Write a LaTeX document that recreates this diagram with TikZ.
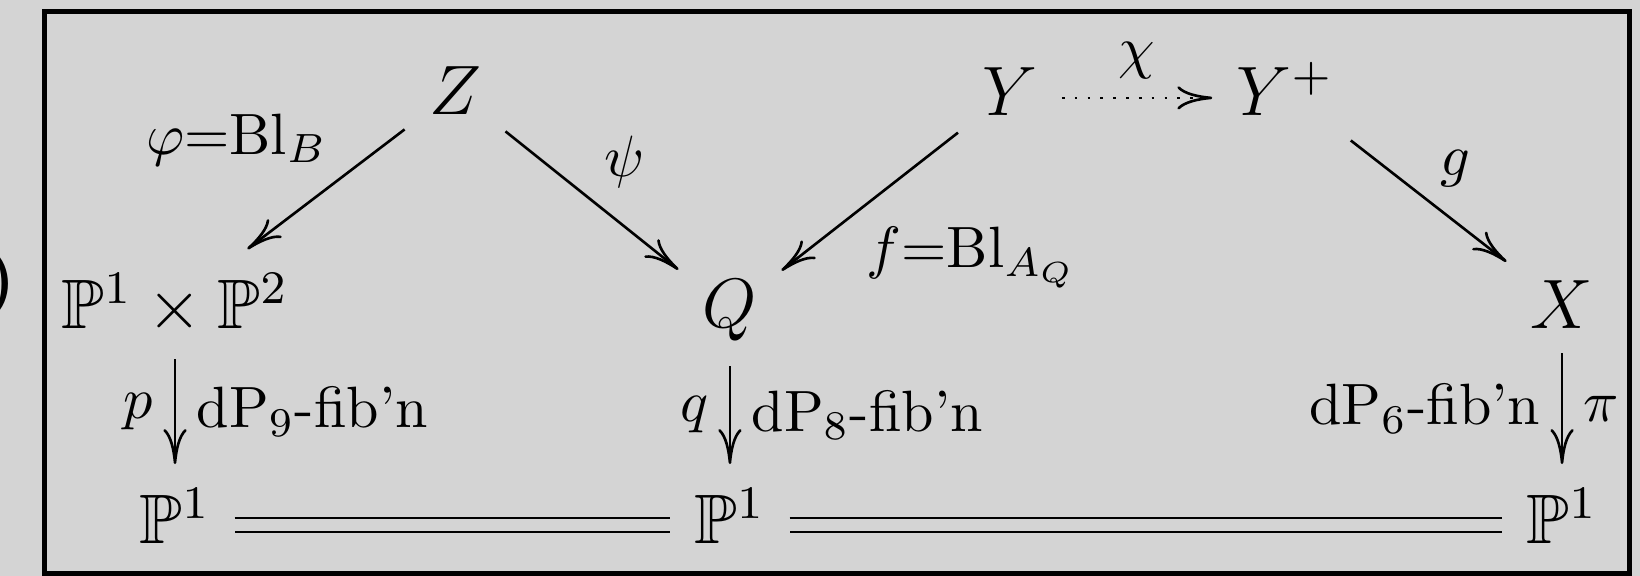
\documentclass[tikz,border=0pt]{standalone}
\usepackage{amsmath}
\usepackage{amssymb}
\usetikzlibrary{arrows.meta, positioning}
\definecolor{figgray}{HTML}{D4D4D4}
\tikzset{
  cdobj/.style={font=\large, anchor=base, inner sep=4pt},
  cdlabel/.style={font=\normalsize, inner sep=2pt},
  cdarrow/.style={-{To[length=6pt, width=4pt]}, line width=0.45pt},
  cddots/.style={cdarrow, dash pattern=on 0.45pt off 1.75pt},
  cdequal/.style={double=figgray, double distance=1.9pt, line width=0.5pt},
}
\begin{document}
\begin{tikzpicture}
  \fill[figgray] (0,0) rectangle (9.886,-3.472);
  \useasboundingbox (0,0) rectangle (9.886,-3.472);
  \node[font=\large\bfseries, anchor=base east, inner sep=0pt] (paren) at (0.105,-1.815) {)};
  \draw[line width=0.8pt] (0.269,-0.068) rectangle (9.823,-3.456);
  % top row
  \node[cdobj] (Z) at (2.743,-0.693) {$Z$};
  \node[cdobj] (Y) at (6.088,-0.699) {$Y$};
  \node[cdobj] (Yp) at (7.746,-0.699) {$Y^+$};
  % middle row
  \node[cdobj] (PP) at (1.055,-1.983) {$\mathbb{P}^1\times\mathbb{P}^2$};
  \node[cdobj] (Q) at (4.400,-1.977) {$Q$};
  \node[cdobj] (X) at (9.416,-1.983) {$X$};
  % bottom row
  \node[cdobj] (PA) at (1.055,-3.279) {$\mathbb{P}^1$};
  \node[cdobj] (PB) at (4.400,-3.279) {$\mathbb{P}^1$};
  \node[cdobj] (PC) at (9.416,-3.279) {$\mathbb{P}^1$};
  % maps
  \draw[cdarrow] (Z) -- (PP)
    node[cdlabel, pos=0.41, anchor=south east] (lphi) {$\varphi{=}\mathrm{Bl}_B$};
  \draw[cdarrow] (Z) -- (Q)
    node[cdlabel, midway, anchor=south west] (lpsi) {$\psi$};
  \draw[cdarrow] (Y) -- (Q)
    node[cdlabel, pos=0.59, anchor=north west] (lf) {$f{=}\mathrm{Bl}_{A_Q}$};
  \draw[cddots] ([yshift=-1pt]Y.east) -- ([yshift=-1pt]Y.east -| Yp.west)
    node[cdlabel, midway, above=1pt] (lchi) {$\chi$};
  \draw[cdarrow] (Yp) -- (X)
    node[cdlabel, pos=0.49, anchor=south west] (lg) {$g$};
  \draw[cdarrow] (PP) -- (PA)
    node[cdlabel, midway, left=1.5pt] (lp) {$p$}
    node[cdlabel, midway, right=1.5pt] (lpfib) {$\mathrm{dP}_9$-fib'n};
  \draw[cdarrow] (Q) -- (PB)
    node[cdlabel, midway, left=1.5pt] (lq) {$q$}
    node[cdlabel, midway, right=1.5pt] (lqfib) {$\mathrm{dP}_8$-fib'n};
  \draw[cdarrow] (X) -- (PC)
    node[cdlabel, midway, left=1.5pt] (lxfib) {$\mathrm{dP}_6$-fib'n}
    node[cdlabel, midway, right=1.5pt] (lpi) {$\pi$};
  \draw[cdequal] ([yshift=-1.5pt]PA.east) -- ([yshift=-1.5pt]PB.west);
  \draw[cdequal] ([yshift=-1.5pt]PB.east) -- ([yshift=-1.5pt]PC.west);
\end{tikzpicture}
\end{document}
